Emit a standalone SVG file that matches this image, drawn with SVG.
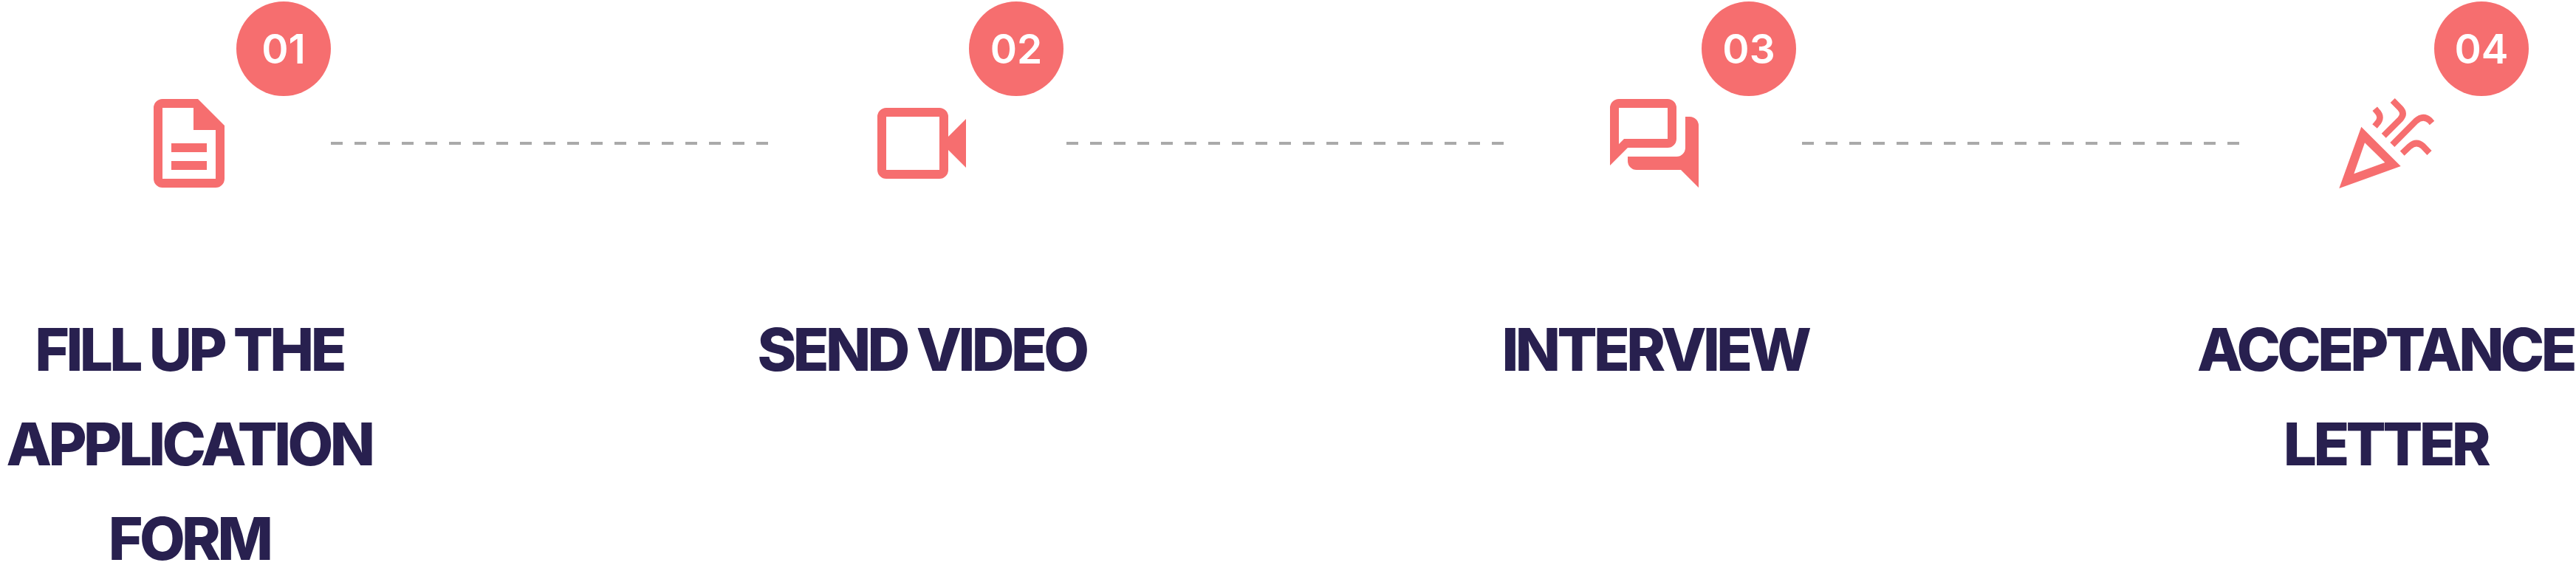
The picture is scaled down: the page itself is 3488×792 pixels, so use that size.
<svg xmlns="http://www.w3.org/2000/svg" width="3488" height="792" viewBox="0 0 3488 792">
<style>
.badge{fill:#f66e6f}
.icon{fill:#f66e6f;fill-rule:evenodd}
.strand{fill:none;stroke:#f66e6f;stroke-width:8.5}
.num{font-family:"Inter","Liberation Sans",sans-serif;font-weight:600;font-size:55px;fill:#fff;text-anchor:middle}
.title{font-family:"Inter","Liberation Sans",sans-serif;font-weight:800;font-size:80px;letter-spacing:-4.6px;fill:#28204f;text-anchor:middle}
.dash{stroke:#aaa;stroke-width:4;stroke-dasharray:16 16;fill:none}
</style>
<rect width="3488" height="792" fill="#fff"/>
<g id="connectors">
<line class="dash" x1="448" y1="194" x2="1040" y2="194"/>
<line class="dash" x1="1444" y1="194" x2="2036" y2="194"/>
<line class="dash" x1="2440" y1="194" x2="3032" y2="194"/>
</g>
<g id="step-1">
<circle class="badge" cx="384" cy="66" r="64"/>
<text class="num" x="384" y="86">01</text>
<path class="icon" d="M220 134H268L304 170V242A12 12 0 0 1 292 254H220A12 12 0 0 1 208 242V146A12 12 0 0 1 220 134ZM220 146V242H292V176H262V146ZM232 194H280V206H232ZM232 218H280V230H232Z"/>
<text class="title"><tspan x="256" y="502">FILL UP THE</tspan><tspan x="256" y="630">APPLICATION</tspan><tspan x="256" y="758">FORM</tspan></text>
</g>
<g id="step-2">
<circle class="badge" cx="1376" cy="66" r="64"/>
<text class="num" x="1376" y="86">02</text>
<path class="icon" d="M1200 146H1272A12 12 0 0 1 1284 158V185L1308 161V227L1284 203V230A12 12 0 0 1 1272 242H1200A12 12 0 0 1 1188 230V158A12 12 0 0 1 1200 146ZM1200 158V230H1272V158Z"/>
<text class="title" x="1248" y="502">SEND VIDEO</text>
</g>
<g id="step-3">
<circle class="badge" cx="2368" cy="66" r="64"/>
<text class="num" x="2368" y="86">03</text>
<path class="icon" d="M2192 134H2258A12 12 0 0 1 2270 146V188A12 12 0 0 1 2258 200H2204L2180 224V146A12 12 0 0 1 2192 134ZM2192 146V195L2199 188H2258V146Z"/>
<path class="icon" d="M2282 158H2288A12 12 0 0 1 2300 170V254L2276 230H2216A12 12 0 0 1 2204 218V212H2270A12 12 0 0 0 2282 200Z"/>
<text class="title" x="2241" y="502">INTERVIEW</text>
</g>
<g id="step-4">
<circle class="badge" cx="3360" cy="66" r="64"/>
<text class="num" x="3360" y="86">04</text>
<path class="icon" d="M3197.3 171.7L3250.7 225L3167.3 255ZM3202 193.3L3187.3 235.3L3229.3 220Z"/>
<path class="strand" d="M3215.700 147.300L3218 150Q3227 159 3218 168L3215.500 171"/>
<path class="strand" d="M3239.700 136L3250 146.500Q3257 154 3250 161.500L3227.700 183.700"/>
<path class="strand" d="M3239.300 196L3271 164Q3281 155 3290 163L3293 166.500"/>
<path class="strand" d="M3252.700 207.700L3263 198Q3272 190 3281 198L3289.500 207"/>
<text class="title" x="3230" y="502">ACCEPTANCE</text>
<text class="title" x="3230" y="630">LETTER</text>
</g>
</svg>
